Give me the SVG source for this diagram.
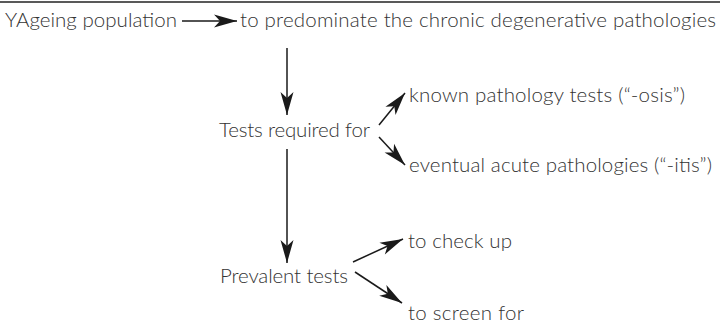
<svg xmlns="http://www.w3.org/2000/svg" width="720" height="331" viewBox="0 0 720 331">
<defs>
<style>
.t{font-family:"Lato","Open Sans","Liberation Sans",sans-serif;font-weight:300;font-size:20.5px;fill:#333333}
.c{stroke:#1a1a1a;stroke-width:1.5;fill:none}
</style>
<marker id="ah" markerUnits="userSpaceOnUse" viewBox="-24 -8 26 16" refX="0" refY="0" markerWidth="26" markerHeight="16" orient="auto" overflow="visible">
<path d="M0,0 L-23,-6.5 L-17,0 L-23,6.5 Z" fill="#1a1a1a"/>
</marker>
</defs>
<rect width="720" height="331" fill="#ffffff"/>
<line x1="0" y1="2" x2="720" y2="2" stroke="#222" stroke-width="1.5"/>
<g id="n1"><text class="t" x="5" y="27" textLength="172" lengthAdjust="spacing">YAgeing population</text></g>
<g id="n2"><text class="t" x="240" y="27" textLength="476" lengthAdjust="spacing">to predominate the chronic degenerative pathologies</text></g>
<g id="n3"><text class="t" x="219" y="137" textLength="151" lengthAdjust="spacing">Tests required for</text></g>
<g id="n4"><text class="t" x="409" y="102" textLength="276" lengthAdjust="spacing">known pathology tests (“-osis”)</text></g>
<g id="n5"><text class="t" x="409" y="172" textLength="303" lengthAdjust="spacing">eventual acute pathologies (“-itis”)</text></g>
<g id="n6"><text class="t" x="220" y="283" textLength="128" lengthAdjust="spacing">Prevalent tests</text></g>
<g id="n7"><text class="t" x="408" y="248" textLength="104" lengthAdjust="spacing">to check up</text></g>
<g id="n8"><text class="t" x="408" y="320" textLength="116" lengthAdjust="spacing">to screen for</text></g>
<g id="connectors">
<line class="c" x1="182" y1="21" x2="237" y2="21" marker-end="url(#ah)"/>
<line class="c" x1="287" y1="48" x2="287" y2="115" marker-end="url(#ah)"/>
<line class="c" x1="379" y1="125" x2="405" y2="93" marker-end="url(#ah)"/>
<line class="c" x1="379" y1="137" x2="405" y2="165" marker-end="url(#ah)"/>
<line class="c" x1="287" y1="149" x2="287" y2="263" marker-end="url(#ah)"/>
<line class="c" x1="353" y1="262" x2="403" y2="239" marker-end="url(#ah)"/>
<line class="c" x1="355" y1="272" x2="402" y2="303" marker-end="url(#ah)"/>
</g>
</svg>
